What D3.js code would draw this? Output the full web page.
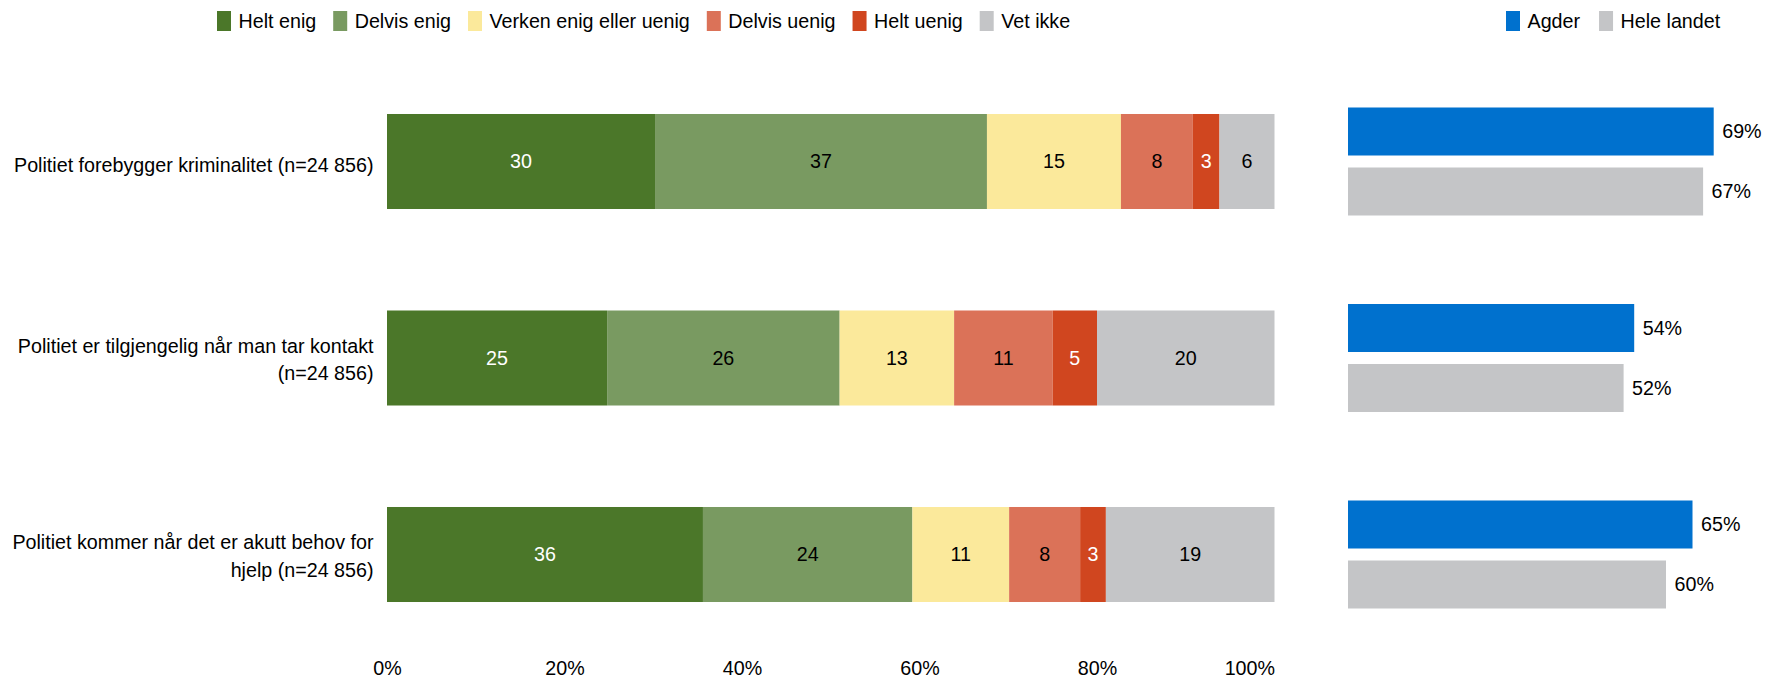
<!DOCTYPE html>
<html>
<head>
<meta charset="utf-8">
<script src="https://cdn.jsdelivr.net/npm/d3@7"></script>
<style>
  body { margin: 0; background: #fff; }
  svg { display: block; font-family: "Liberation Sans", Arial, sans-serif; }
</style>
</head>
<body>
<div id="chart"></div>
<script>
// spørsmål (linjeskift der teksten brytes i figuren)
var categories = [
  "Politiet forebygger kriminalitet (n=24 856)",
  "Politiet er tilgjengelig når man tar kontakt\n(n=24 856)",
  "Politiet kommer når det er akutt behov for\nhjelp (n=24 856)"
];

var responses = ["Helt enig", "Delvis enig", "Verken enig eller uenig", "Delvis uenig", "Helt uenig", "Vet ikke"];
var responseColors = ["#4b7729", "#799a61", "#fbe99b", "#db7258", "#d0461f", "#c4c5c7"];
var whiteText = ["Helt enig", "Helt uenig"];

// andel per svaralternativ, én rad per spørsmål
var shares = [
  [30.2, 37.4, 15.1, 8.1, 3.0, 6.2],
  [24.8, 26.2, 12.9, 11.1, 5.0, 20.0],
  [35.6, 23.6, 10.9, 8.0, 2.9, 19.0]
];

// andel enig totalt
var areas = ["Agder", "Hele landet"];
var areaColors = ["#0071ce", "#c4c5c7"];
var agder = [69, 54, 65];
var heleLandet = [67, 52, 60];

var xTicks = [0, 20, 40, 60, 80, 100];

var width = 1765, height = 679;
var fontSize = 19.7;

var svg = d3.select("#chart").append("svg")
  .attr("width", width)
  .attr("height", height);

var x = d3.scaleLinear().domain([0, 100]).range([387, 1274.5]);
var x2 = d3.scaleLinear().domain([0, 100]).range([1348, 1878]);

var y = d3.scaleBand()
  .domain(d3.range(categories.length))
  .range([63.25, 652.75])
  .paddingInner(0.5165)
  .paddingOuter(0.5165 / 2);

var ySub = d3.scaleBand()
  .domain(areas)
  .range([-54, 54])
  .paddingInner(0.2);

// stablede søyler
var rows = shares.map(function(vals, i) {
  var acc = 0;
  return vals.map(function(v, j) {
    var d = { row: i, key: responses[j], color: responseColors[j], x0: acc, x1: acc + v, value: v };
    acc += v;
    return d;
  });
});

var rowG = svg.append("g").selectAll("g")
  .data(rows)
  .enter().append("g")
  .attr("transform", function(d, i) { return "translate(0," + y(i) + ")"; });

rowG.selectAll("rect")
  .data(function(d) { return d; })
  .enter().append("rect")
  .attr("x", function(d) { return x(d.x0); })
  .attr("width", function(d) { return x(d.x1) - x(d.x0); })
  .attr("height", y.bandwidth())
  .attr("fill", function(d) { return d.color; });

rowG.selectAll("text")
  .data(function(d) { return d; })
  .enter().append("text")
  .attr("x", function(d) { return (x(d.x0) + x(d.x1)) / 2; })
  .attr("y", y.bandwidth() / 2)
  .attr("dy", "0.35em")
  .attr("text-anchor", "middle")
  .attr("font-size", fontSize)
  .attr("fill", function(d) { return whiteText.indexOf(d.key) >= 0 ? "#fff" : "#000"; })
  .text(function(d) { return Math.round(d.value); });

// kategoritekster
var lineHeight = 27.5;
svg.append("g").selectAll("text")
  .data(categories)
  .enter().append("text")
  .attr("text-anchor", "end")
  .attr("font-size", fontSize)
  .attr("fill", "#000")
  .each(function(d, i) {
    var lines = d.split("\n");
    var cy = y(i) + y.bandwidth() / 2;
    var shift = 10.5 - 2 * (lines.length - 1);
    var t = d3.select(this);
    lines.forEach(function(line, k) {
      t.append("tspan")
        .attr("x", 373.5)
        .attr("y", cy + shift + (k - (lines.length - 1) / 2) * lineHeight)
        .text(line);
    });
  });

// x-akse
var axis = svg.append("g")
  .attr("transform", "translate(0,658)")
  .call(d3.axisBottom(x).tickValues(xTicks).tickSize(0).tickPadding(3)
    .tickFormat(function(d) { return d + "%"; }));
axis.select(".domain").remove();
axis.selectAll("text")
  .attr("font-size", fontSize)
  .attr("font-family", "Liberation Sans, Arial, sans-serif")
  .attr("fill", "#000");
// siste etikett holdes innenfor plottet
axis.selectAll(".tick:last-of-type text").attr("text-anchor", "end");

// sammenligning Agder / hele landet
var compare = categories.map(function(c, i) {
  return [
    { area: areas[0], value: agder[i], color: areaColors[0], row: i },
    { area: areas[1], value: heleLandet[i], color: areaColors[1], row: i }
  ];
});

var cmpG = svg.append("g").selectAll("g")
  .data(compare)
  .enter().append("g")
  .attr("transform", function(d, i) { return "translate(0," + (y(i) + y.bandwidth() / 2) + ")"; });

cmpG.selectAll("rect")
  .data(function(d) { return d; })
  .enter().append("rect")
  .attr("x", x2(0))
  .attr("y", function(d) { return ySub(d.area); })
  .attr("width", function(d) { return x2(d.value) - x2(0); })
  .attr("height", ySub.bandwidth())
  .attr("fill", function(d) { return d.color; });

cmpG.selectAll("text")
  .data(function(d) { return d; })
  .enter().append("text")
  .attr("x", function(d) { return x2(d.value) + 8.5; })
  .attr("y", function(d) { return ySub(d.area) + ySub.bandwidth() / 2; })
  .attr("dy", "0.35em")
  .attr("font-size", fontSize)
  .attr("fill", "#000")
  .text(function(d) { return d.value + "%"; });

// legender
function legend(items, colors, x0, gap) {
  var g = svg.append("g");
  var cx = x0;
  items.forEach(function(name, i) {
    g.append("rect")
      .attr("x", cx).attr("y", 11)
      .attr("width", 14).attr("height", 20)
      .attr("fill", colors[i]);
    var t = g.append("text")
      .attr("x", cx + 21.5).attr("y", 21)
      .attr("dy", "0.35em")
      .attr("font-size", fontSize)
      .attr("fill", "#000")
      .text(name);
    cx += 21.5 + t.node().getComputedTextLength() + gap;
  });
}

legend(responses, responseColors, 217, 17);
legend(areas, areaColors, 1506, 19);
</script>
</body>
</html>
